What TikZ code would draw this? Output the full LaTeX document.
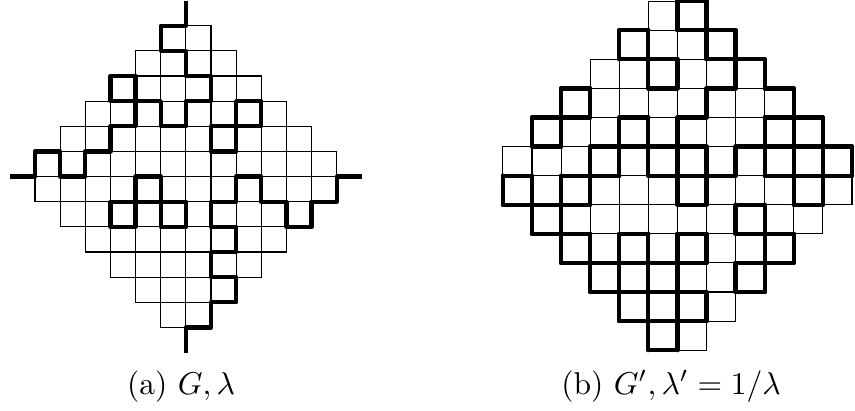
\documentclass[tikz,border=0pt]{standalone}
\usepackage{amsmath,amssymb}
\usepackage{tikz}
\usetikzlibrary{calc}
\tikzset{
  cell/.style={draw=black,line width=0.35pt},
  bond/.style={line width=1.35pt,line join=round,line cap=round},
  stub/.style={line width=1.35pt,line join=round,line cap=butt}
}

\begin{document}
\begin{tikzpicture}
  \useasboundingbox (0,0) rectangle (271pt,130pt);

  \begin{scope}[shift={(11.1pt,26.2pt)},x=7.97pt,y=7.97pt]
    \foreach \j in {0,...,11} {
      \pgfmathtruncatemacro{\rk}{min(\j,11-\j)}
      \pgfmathtruncatemacro{\cmin}{5-\rk}
      \pgfmathtruncatemacro{\cmax}{6+\rk}
      \foreach \i in {\cmin,...,\cmax} \draw[cell] (\i,\j) rectangle ++(1,1);
    }
    \draw[stub] (6,13) -- (6,12) -- (5,12) -- (5,11) -- (6,11) -- (6,10) -- (7,10) -- (7,9)
      -- (6,9) -- (6,8) -- (5,8) -- (5,9) -- (4,9) -- (4,8) -- (3,8) -- (3,7) -- (2,7)
      -- (2,6) -- (1,6) -- (1,7) -- (0,7) -- (0,6) -- (-1,6);
    \draw[stub] (13,6) -- (12,6) -- (12,5) -- (11,5) -- (11,4) -- (10,4) -- (10,5) -- (9,5)
      -- (9,6) -- (8,6) -- (8,5) -- (7,5) -- (7,4) -- (8,4) -- (8,3) -- (7,3) -- (7,2)
      -- (8,2) -- (8,1) -- (7,1) -- (7,0) -- (6,0) -- (6,-1);
    \draw[bond] (3,9) rectangle (4,10);
    \draw[bond] (8,8) rectangle (9,9) (7,7) rectangle (8,8);
    \draw[bond] (3,4) rectangle (4,5) (5,4) rectangle (6,5);
    \draw[bond] (4,5) -- (4,6) -- (5,6) -- (5,5) -- (4,5);
  \end{scope}

  \begin{scope}[shift={(159.4pt,19.0pt)},x=9.22pt,y=9.22pt]
    \foreach \j in {0,...,11} {
      \pgfmathtruncatemacro{\rk}{min(\j,11-\j)}
      \pgfmathtruncatemacro{\cmin}{5-\rk}
      \pgfmathtruncatemacro{\cmax}{6+\rk}
      \foreach \i in {\cmin,...,\cmax} \draw[cell] (\i,\j) rectangle ++(1,1);
    }
    \foreach \y/\xs in {0/{5},1/{4,5,6},2/{3,4,5,6,8},3/{2,3,4,5,6,8,9},4/{1,2,4,6,8,9},
        5/{0,1,2,6,8,10},6/{0,2,3,5,6,7,9,10,11},7/{1,3,4,5,6,8,9,10,11},
        8/{1,2,4,6,9,10},9/{2,5,7,9},10/{4,5,7,8},11/{4,6,7},12/{6}}
      \foreach \x in \xs \draw[bond] (\x,\y) -- ++(1,0);
    \foreach \x/\ys in {0/{5},1/{4,5,7},2/{3,4,5,7,8},3/{2,3,5,6,8},4/{1,2,3,6,7,10},
        5/{0,1,2,3,6,7,9,10},6/{0,1,2,3,5,6,7,9,11},7/{1,3,5,6,8,10,11},
        8/{2,4,6,9,10},9/{2,3,4,6,7,9},10/{3,5,6,7,8},11/{5,6,7},12/{6}}
      \foreach \y in \ys \draw[bond] (\x,\y) -- ++(0,1);
  \end{scope}

  \node[anchor=base] (capa) at (57.4pt,5.1pt) {(a) $G,\lambda$};
  \node[anchor=base] (capb) at (212.7pt,5.1pt) {(b) $G',\lambda'=1/\lambda$};
\end{tikzpicture}
\end{document}
